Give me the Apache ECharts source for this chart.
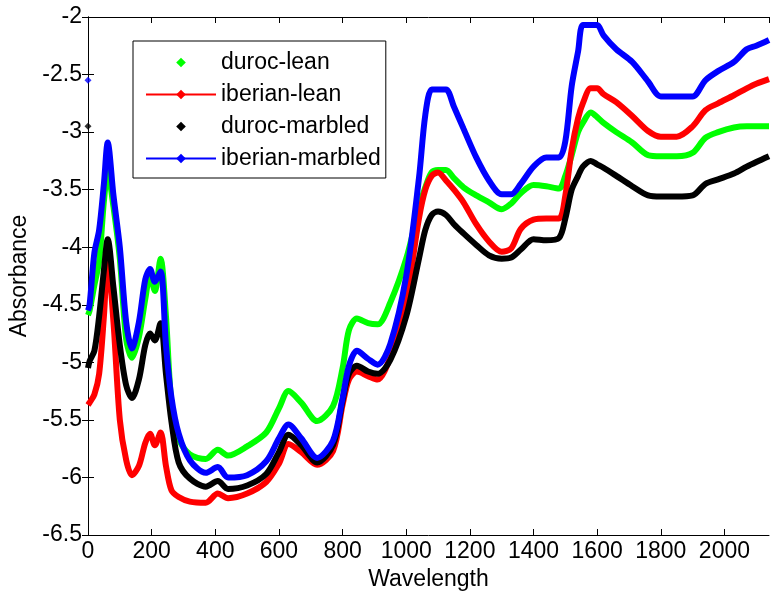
<!DOCTYPE html>
<html>
<head>
<meta charset="utf-8">
<script src="https://cdn.jsdelivr.net/npm/echarts@6/dist/echarts.min.js"></script>
<style>
  html, body { margin: 0; padding: 0; background: #fff; }
  #chart { width: 773px; height: 596px; }
</style>
</head>
<body>
<div id="chart"></div>
<script>
var wavelength = [0, 5, 20, 35, 50, 62, 80, 100, 120, 138,
    160, 180, 195, 210, 228, 245, 262, 285, 320, 370,
    408, 440, 500, 560, 600, 630, 670, 720, 770, 800,
    820, 845, 880, 910, 950, 1000, 1040, 1060, 1080, 1100,
    1125, 1150, 1180, 1220, 1260, 1300, 1330, 1360, 1400, 1440,
    1480, 1500, 1520, 1540, 1555, 1580, 1600, 1620, 1660, 1710,
    1760, 1800, 1850, 1900, 1940, 1980, 2030, 2070, 2100, 2140];

var durocLean = [-4.59, -4.55, -4.33, -4.12, -3.6, -3.35, -3.65, -4.1, -4.8, -4.96,
    -4.78, -4.45, -4.24, -4.38, -4.10, -4.6, -5.35, -5.66, -5.8, -5.84,
    -5.76, -5.81, -5.73, -5.61, -5.4, -5.25, -5.35, -5.51, -5.38, -5.05,
    -4.72, -4.62, -4.66, -4.67, -4.48, -4.10, -3.66, -3.48, -3.35, -3.33,
    -3.33, -3.4, -3.48, -3.55, -3.61, -3.67, -3.62, -3.53, -3.46, -3.47,
    -3.49, -3.38, -3.2, -3.0, -2.92, -2.83, -2.87, -2.92, -3.0, -3.09,
    -3.2, -3.21, -3.21, -3.18, -3.05, -3.0, -2.96, -2.95, -2.95, -2.95];

var iberianLean = [-5.37, -5.35, -5.28, -5.1, -4.6, -4.1, -4.65, -5.5, -5.85, -5.98,
    -5.9, -5.7, -5.62, -5.72, -5.61, -5.9, -6.11, -6.17, -6.21, -6.22,
    -6.14, -6.18, -6.14, -6.04, -5.88, -5.71, -5.78, -5.89, -5.77, -5.37,
    -5.15, -5.08, -5.12, -5.15, -4.95, -4.45, -3.75, -3.5, -3.38, -3.35,
    -3.42, -3.5, -3.61, -3.8, -3.95, -4.04, -4.01, -3.84, -3.76, -3.75,
    -3.75, -3.55, -3.15, -2.88, -2.75, -2.62, -2.62, -2.67, -2.74, -2.86,
    -2.99, -3.04, -3.04, -2.95, -2.81, -2.75, -2.68, -2.62, -2.58, -2.54];

var durocMarbled = [-5.05, -4.99, -4.9, -4.6, -4.2, -3.93, -4.35, -4.85, -5.2, -5.31,
    -5.15, -4.85, -4.75, -4.81, -4.66, -5.1, -5.51, -5.87, -6.01, -6.08,
    -6.03, -6.1, -6.07, -5.97, -5.78, -5.63, -5.72, -5.87, -5.72, -5.33,
    -5.1, -5.03, -5.08, -5.1, -4.98, -4.6, -4.1, -3.85, -3.72, -3.69,
    -3.72, -3.8, -3.88, -3.98, -4.07, -4.10, -4.09, -4.02, -3.93, -3.94,
    -3.92, -3.75, -3.5, -3.38, -3.3, -3.25, -3.28, -3.31, -3.38, -3.47,
    -3.55, -3.56, -3.56, -3.55, -3.45, -3.41, -3.36, -3.3, -3.26, -3.21];

var iberianMarbled = [-4.55, -4.5, -4.05, -3.85, -3.45, -3.09, -3.55, -4.0, -4.65, -4.88,
    -4.65, -4.28, -4.19, -4.30, -4.21, -4.85, -5.3, -5.62, -5.85, -5.96,
    -5.91, -6.0, -5.98, -5.86, -5.66, -5.54, -5.66, -5.83, -5.68, -5.31,
    -5.03, -4.90, -4.97, -5.02, -4.84, -4.25, -3.4, -2.85, -2.63, -2.63,
    -2.63, -2.78, -2.97, -3.22, -3.42, -3.54, -3.54, -3.45, -3.3, -3.22,
    -3.22, -3.08, -2.6, -2.3, -2.07, -2.07, -2.07, -2.16, -2.28, -2.39,
    -2.56, -2.69, -2.69, -2.69, -2.55, -2.47, -2.39, -2.28, -2.25, -2.2];

// stray first samples, drawn apart from the curves
var strayWavelength = [0];
var strayDurocMarbled = [-2.95];
var strayIberianMarbled = [-2.55];

var names = ['duroc-lean', 'iberian-lean', 'duroc-marbled', 'iberian-marbled'];
var colors = ['#00ff00', '#ff0000', '#000000', '#0000ff'];
var yTicks = [-6.5, -2];

function pairs(xs, ys) {
    return xs.map(function(x, i) { return [x, ys[i]]; });
}

var font = 'Liberation Sans, Arial, sans-serif';
var chart = echarts.init(document.getElementById('chart'));

function curve(idx, values) {
    return {
        name: names[idx],
        type: 'line',
        data: pairs(wavelength, values),
        smooth: 0.3,
        symbol: 'diamond',
        showSymbol: false,
        lineStyle: {color: colors[idx], width: 6},
        itemStyle: {color: colors[idx]},
        animation: false
    };
}

var boxAxis = {
    axisLine: {show: true, lineStyle: {color: '#000', width: 1}},
    axisTick: {show: true, inside: true, length: 6, lineStyle: {color: '#000'}},
    axisLabel: {show: false},
    splitLine: {show: false}
};

var option = {
    backgroundColor: '#fff',
    textStyle: {fontFamily: font},
    grid: {left: 88, right: 4, top: 17, bottom: 58},
    legend: {
        data: [
            {name: names[0], lineStyle: {opacity: 0}},
            {name: names[1]},
            {name: names[2], lineStyle: {opacity: 0}},
            {name: names[3]}
        ],
        orient: 'vertical',
        left: 133,
        top: 41,
        padding: [9, 5, 7, 12],
        itemWidth: 70,
        itemHeight: 12,
        itemGap: 7,
        itemTextGap: 7,
        lineStyle: {width: 2},
        backgroundColor: '#fff',
        borderColor: '#000',
        borderWidth: 1,
        borderRadius: 0,
        textStyle: {fontSize: 23, color: '#000', fontFamily: font, lineHeight: 25}
    },
    xAxis: [
        Object.assign({}, boxAxis, {
            type: 'value',
            min: 0,
            max: 2140,
            interval: 200,
            name: 'Wavelength',
            nameLocation: 'middle',
            nameGap: 33,
            nameTextStyle: {fontSize: 23, color: '#000'},
            axisLabel: {
                show: true, fontSize: 23, color: '#000', margin: 5, showMaxLabel: false,
                formatter: function(v) { return String(v); }
            }
        }),
        Object.assign({}, boxAxis, {type: 'value', position: 'top', min: 0, max: 2140, interval: 200})
    ],
    yAxis: [
        Object.assign({}, boxAxis, {
            type: 'value',
            min: yTicks[0],
            max: yTicks[1],
            interval: 0.5,
            name: 'Absorbance',
            nameLocation: 'middle',
            nameGap: 57,
            nameTextStyle: {fontSize: 23, color: '#000'},
            axisLabel: {show: true, fontSize: 23, color: '#000', margin: 6}
        }),
        Object.assign({}, boxAxis, {type: 'value', position: 'right', min: yTicks[0], max: yTicks[1], interval: 0.5})
    ],
    series: [
        curve(0, durocLean),
        curve(1, iberianLean),
        curve(2, durocMarbled),
        curve(3, iberianMarbled),
        {
            name: 'duroc-marbled stray',
            type: 'scatter',
            data: pairs(strayWavelength, strayDurocMarbled),
            symbol: 'diamond',
            symbolSize: 7,
            itemStyle: {color: colors[2]},
            animation: false
        },
        {
            name: 'iberian-marbled stray',
            type: 'scatter',
            data: pairs(strayWavelength, strayIberianMarbled),
            symbol: 'diamond',
            symbolSize: 7,
            itemStyle: {color: colors[3]},
            animation: false
        }
    ]
};

chart.setOption(option);
</script>
</body>
</html>
